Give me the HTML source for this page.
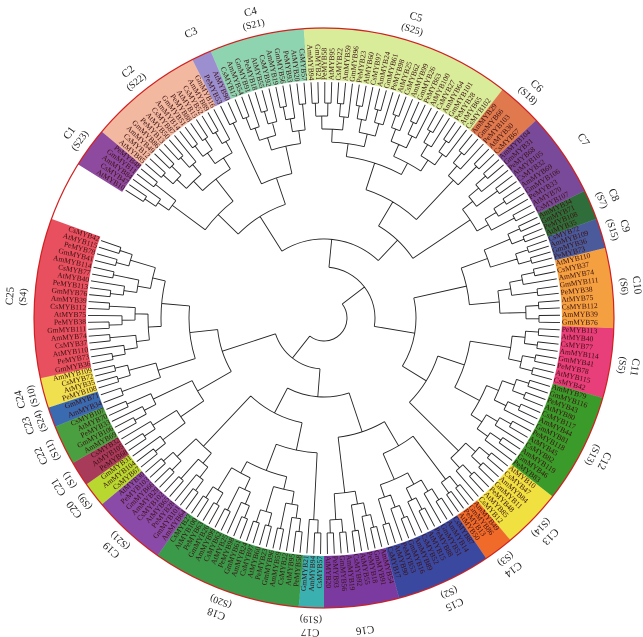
<!DOCTYPE html>
<html><head><meta charset="utf-8">
<style>
html,body{margin:0;padding:0;background:#fff;}
svg{display:block;font-family:"Liberation Serif",serif;}
</style></head>
<body>
<svg id="tree" width="643" height="637" viewBox="0 0 643 637" xmlns="http://www.w3.org/2000/svg"></svg>
<script>
const clusterNames=["C1","C2","C3","C4","C5","C6","C7","C8","C9","C10","C11","C12","C13","C14","C15","C16","C17","C18","C19","C20","C21","C22","C23","C24","C25"];
const subNames=["(S23)","(S22)","","(S21)","(S25)","(S18)","","(S7)","(S15)","(S6)","(S5)","(S13)","(S14)","(S3)","(S2)","","(S19)","(S20)","(S21)","(S9)","(S1)","(S11)","(S24)","(S10)","(S4)"];
const startAngles=[302,310,333,337,356,398,407,424,430,436,452,466,488,500,506,525,540,545,575,590,595,600,608,612,618];
const endAngles=[310,333,337,356,398,407,424,430,436,452,466,488,500,506,525,540,545,575,590,595,600,608,612,618,650];
const colors=["#8e4a9e","#f2b8a0","#9b8fd0","#8fd4b0","#d8ec9a","#e07a4e","#7a4a9a","#2f6e3a","#4a5a9a","#f5a040","#e83e7a","#3a9a2a","#f0e040","#f06a2a","#3a48a0","#7a3aa0","#3ab0b0","#3a9a4a","#8a4aa8","#b8d830","#a83a5a","#4aa040","#3a6ab0","#f0e050","#e85060"];
const leafPrefixes=["AtMYB","CsMYB","AmMYB","GmMYB","PeMYB"];

const svg=document.getElementById('tree');
const NS="http://www.w3.org/2000/svg";
const cx=324, cy=318, R=290, Rin=238, Rleaf=236;
function pt(a,r){const t=a*Math.PI/180;return [cx+r*Math.sin(t), cy-r*Math.cos(t)];}
function mk(tag,attrs){const e=document.createElementNS(NS,tag);for(const k in attrs)e.setAttribute(k,attrs[k]);svg.appendChild(e);return e;}

// bands
clusterNames.forEach((c,i)=>{
  const a0=startAngles[i],a1=endAngles[i];
  const p1=pt(a0,R),p2=pt(a1,R),p3=pt(a1,Rin),p4=pt(a0,Rin);
  const large=(a1-a0)>180?1:0;
  const p=mk('path',{d:`M${p1[0]},${p1[1]} A${R},${R} 0 ${large} 1 ${p2[0]},${p2[1]} L${p3[0]},${p3[1]} A${Rin},${Rin} 0 ${large} 0 ${p4[0]},${p4[1]} Z`,fill:colors[i]});
  
  
});
const circ=mk('circle',{cx:cx,cy:cy,r:R,fill:'none',stroke:'#d02020','stroke-width':1.2});



// cluster labels
clusterNames.forEach((c,i)=>{
  const a=(startAngles[i]+endAngles[i])/2;
  const p=pt(a,314);
  const t=mk('text',{x:p[0],y:p[1],'text-anchor':'middle','dominant-baseline':'middle','font-size':11,fill:'#222',transform:`rotate(${a} ${p[0]} ${p[1]})`});
  t.textContent=c;
  
  
  if(subNames[i]){
    const q=pt(a,301);
    const s=mk('text',{x:q[0],y:q[1],'text-anchor':'middle','dominant-baseline':'middle','font-size':10,fill:'#222',transform:`rotate(${a} ${q[0]} ${q[1]})`});
    s.textContent=subNames[i];
    
    
  }
});

// leaves & tree
const clades=[];
let lineD='';
function arcD(a0,a1,r){const p=pt(a0,r),q=pt(a1,r);const large=(a1-a0)>180?1:0;return `M${p[0]},${p[1]} A${r},${r} 0 ${large} 1 ${q[0]},${q[1]} `;}
function radius(h){return Math.max(22,Rleaf-8-h*13);}
function build(nodes){
  if(nodes.length===1)return nodes[0];
  const m=Math.ceil(nodes.length/2);
  const l=build(nodes.slice(0,m)),r=build(nodes.slice(m));
  const h=Math.max(l.h,r.h)+1;
  const rr=radius(h);
  [l,r].forEach(n=>{const p=pt(n.a,n.r),q=pt(n.a,rr);lineD+=`M${p[0]},${p[1]} L${q[0]},${q[1]} `;});
  lineD+=arcD(l.a,r.a,rr);
  return {a:(l.a+r.a)/2,r:rr,h:h};
}
let leafIdx=0;
clusterNames.forEach((c,i)=>{
  const a0=startAngles[i],a1=endAngles[i];
  const n=Math.max(2,Math.round((a1-a0)/1.7));
  const leaves=[];
  for(let k=0;k<n;k++){
    const a=a0+(k+0.5)*(a1-a0)/n;
    leaves.push({a:a,r:Rleaf,h:0});
    const p=pt(a,Rleaf+2);
    const na=((a%360)+360)%360;
    const flip=na>180;
    const t=mk('text',{x:p[0],y:p[1],'font-size':7.5,fill:'#3a1010','text-anchor':flip?'end':'start','dominant-baseline':'middle',transform:`rotate(${flip?a+90:a-90} ${p[0]} ${p[1]})`});
    t.textContent=leafPrefixes[leafIdx%5]+(10+(leafIdx*37)%110);
    
    
    leafIdx++;
  }
  clades.push(build(leaves));
});
// join clades into super-tree
function buildTop(nodes){
  if(nodes.length===1)return nodes[0];
  const m=Math.ceil(nodes.length/2);
  const l=buildTop(nodes.slice(0,m)),r=buildTop(nodes.slice(m));
  const h=Math.max(l.h,r.h)+1;
  const rr=Math.max(10,Math.min(l.r,r.r)-28);
  [l,r].forEach(n=>{const p=pt(n.a,n.r),q=pt(n.a,rr);lineD+=`M${p[0]},${p[1]} L${q[0]},${q[1]} `;});
  lineD+=arcD(l.a,r.a,rr);
  return {a:(l.a+r.a)/2,r:rr,h:h};
}
buildTop(clades);
const tp=mk('path',{d:lineD,fill:'none',stroke:'#222','stroke-width':0.9});


</script>
</body></html>
